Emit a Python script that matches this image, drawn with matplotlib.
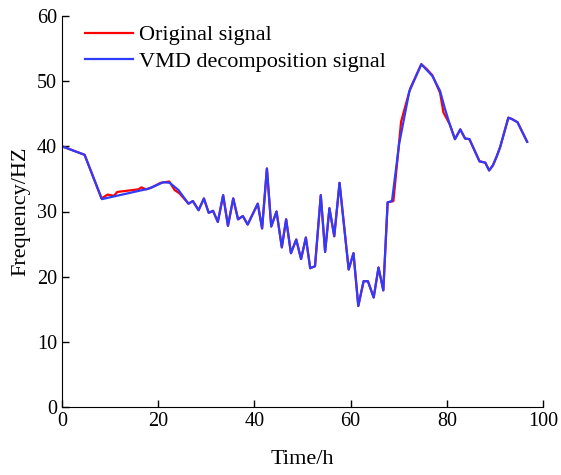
import numpy as np
import matplotlib
matplotlib.use('Agg')
import matplotlib.pyplot as plt

plt.rcParams['font.family'] = ['Liberation Serif', 'DejaVu Serif']

# shared middle part (both curves almost identical here)
t_mid = [26.3, 27.2, 28.4, 29.5, 30.5, 31.4, 32.4, 33.5, 34.5, 35.6, 36.6, 37.6, 38.6,
         40.7, 41.6, 42.6, 43.5, 44.6, 45.7, 46.6, 47.6, 48.7, 49.7, 50.7, 51.6, 52.6,
         53.8, 54.7, 55.6, 56.6, 57.7, 59.6, 60.6, 61.6, 62.7, 63.6, 64.8, 65.8, 66.8, 67.7]
v_mid = [31.2, 31.6, 30.2, 32.0, 29.8, 30.1, 28.4, 32.5, 27.8, 32.0, 28.8, 29.3, 28.0,
         31.2, 27.4, 36.6, 27.7, 30.0, 24.5, 28.8, 23.6, 25.7, 22.7, 26.0, 21.3, 21.6,
         32.5, 23.8, 30.5, 26.2, 34.4, 21.1, 23.6, 15.5, 19.3, 19.3, 16.8, 21.4, 17.9, 31.4]

t_end = [77.0, 78.6, 79.6, 80.6, 81.7, 82.8, 83.8, 84.7, 86.8, 88.0, 88.8, 89.6,
         90.4, 91.1, 92.8, 93.5, 94.7, 96.7]
v_end = [50.8, 48.5, 45.8, 43.4, 41.1, 42.6, 41.2, 41.1, 37.7, 37.5, 36.3, 37.1,
         38.5, 39.9, 44.4, 44.2, 43.7, 40.7]

# Original signal
t_orig = [0, 4.7, 8.2, 9.5, 10.8, 11.5, 15.9, 16.5, 17.5, 18.7, 20.5, 22.3, 23.4, 24.4] \
    + t_mid + [68.9, 70.5, 72.4, 74.7, 75.9, 77.0, 78.6, 79.3] + t_end[3:]
v_orig = [40.0, 38.7, 32.0, 32.6, 32.4, 33.0, 33.4, 33.7, 33.4, 33.7, 34.4, 34.6, 33.3, 32.8] \
    + v_mid + [31.6, 43.8, 48.9, 52.6, 51.8, 50.9, 48.2, 45.2] + v_end[3:]

# VMD decomposition signal
t_vmd = [0, 4.7, 8.3, 18.0, 21.1, 22.4, 24.2] + t_mid + [68.6, 70.1, 72.2, 74.7] + t_end
v_vmd = [40.0, 38.7, 31.9, 33.5, 34.5, 34.4, 33.3] + v_mid + [31.6, 40.4, 48.4, 52.6] + v_end

fig = plt.figure(figsize=(5.61, 4.75), dpi=100)
ax = fig.add_axes([62/561, 68/475, 481/561, 391/475])

ax.plot(t_orig, v_orig, color='#ff0000', lw=1.6, label='Original signal')
ax.plot(t_vmd, v_vmd, color='#2e3cff', lw=1.6, label='VMD decomposition signal')

ax.set_xlim(0, 100)
ax.set_ylim(0, 60)
ax.set_xticks([0, 20, 40, 60, 80, 100])
ax.set_yticks([0, 10, 20, 30, 40, 50, 60])
ax.spines['top'].set_visible(False)
ax.spines['right'].set_visible(False)
ax.tick_params(direction='in', length=5, width=1, labelsize=14.5)
ax.set_xlabel('Time/h', fontsize=16, labelpad=14)
ax.set_ylabel('Frequency/HZ', fontsize=16, labelpad=5)

ax.legend(loc='upper left', bbox_to_anchor=(0.0285, 1.0), frameon=False, fontsize=16,
          handlelength=2.2, handletextpad=0.27, labelspacing=0.28, borderaxespad=0)

fig.savefig('out.png', dpi=100)
